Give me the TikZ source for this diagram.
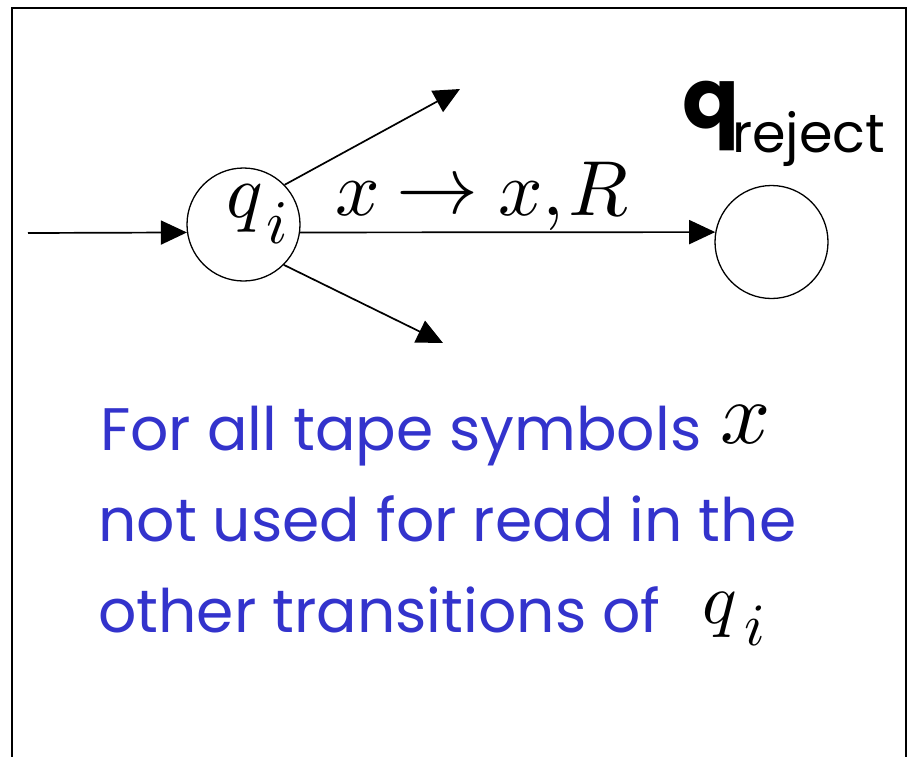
\documentclass[tikz,border=0pt]{standalone}
\usepackage{fontspec}
\usepackage{graphicx}
\newfontfamily\comic{Poppins}
\usetikzlibrary{arrows.meta}
\definecolor{txtblue}{RGB}{51,51,204}
\tikzset{
  state/.style={circle, draw, line width=1.3pt, minimum size=113pt, inner sep=0pt},
  trans/.style={line width=1.7pt, -{Triangle[length=26pt,width=24pt]}},
  bluetext/.style={anchor=base west, inner sep=0pt, text=txtblue, font=\comic\fontsize{60}{60}\selectfont},
  mathtext/.style={anchor=base west, inner sep=0pt},
}
\newcommand{\scaledmath}[2]{\scalebox{#1}{$#2$}}
\begin{document}
\begin{tikzpicture}[x=1pt,y=-1pt]
\useasboundingbox (0,0) rectangle (909,756);
% frame (bottom runs off the picture)
\draw[line width=2pt] (12,760) -- (12,8) -- (906,8) -- (906,760);

% states
\node[state] (qi) at (243.5,224.5) {};
\node[state] (qr) at (771.5,242) {};
\node[mathtext] (qilab) at (226,217) {\scaledmath{7.6}{q}};
\node[mathtext] (qisub) at (266,243) {\scaledmath{6.2}{i}};

% q_reject label
\node[anchor=base west, inner sep=0pt] (qrq) at (682,128) {\comic\bfseries\fontsize{84}{84}\selectfont q};
\node[anchor=base west, inner sep=0pt] (qrsub) at (732,152) {\comic\fontsize{54}{54}\selectfont reject};

% transitions
\coordinate (start) at (28,233);
\coordinate (up) at (460,89);
\coordinate (down) at (443,343);
\draw[trans] (start) -- (qi.188.65);
\draw[trans] (qi.-8.65) -- (qr.170.8);
\draw[trans] (qi.44) -- (up);
\draw[trans] (qi.-45.7) -- (down);

% transition label
\node[mathtext] (lx1) at (335,215) {\scaledmath{7.8}{x}};
\node[mathtext] (larr) at (396,213) {\scaledmath{8.2}{\rightarrow}};
\node[mathtext] (lx2) at (498,215) {\scaledmath{7.8}{x,}};
\node[mathtext] (lR) at (568,215) {\scaledmath{7.8}{R}};

% explanation
\node[bluetext] (l1) at (100,450) {For all tape symbols};
\node[bluetext] (l2) at (98,541) {not used for read in the};
\node[bluetext] (l3) at (98,632) {other transitions of};
\node[mathtext] (xsym) at (720,443) {\scaledmath{8.8}{x}};
\node[mathtext] (qsym) at (702,623) {\scaledmath{7.2}{q}};
\node[mathtext] (isym) at (744,645) {\scaledmath{6}{i}};
\end{tikzpicture}
\end{document}
